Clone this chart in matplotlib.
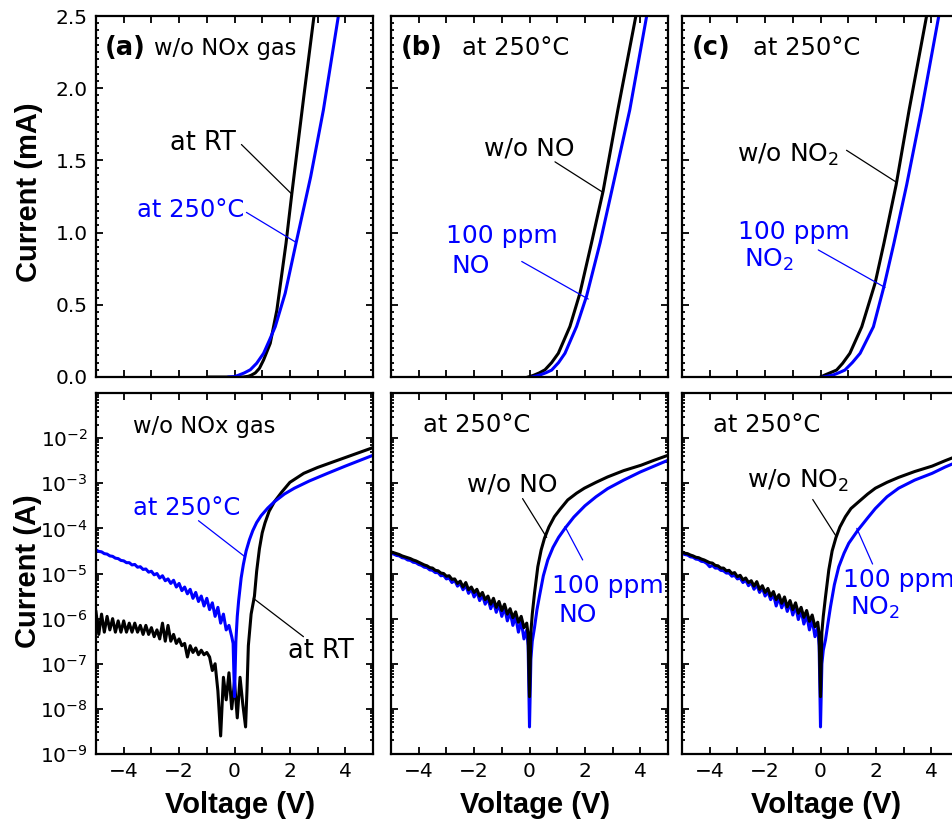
import numpy as np
import matplotlib
matplotlib.use("Agg")
import matplotlib.pyplot as plt
from matplotlib.ticker import MultipleLocator, LogLocator, NullFormatter, FormatStrFormatter

plt.rcParams['font.family'] = ['DejaVu Sans']
plt.rcParams['mathtext.fontset'] = 'dejavusans'

# ---------------- data: top row (linear, mA) ----------------
top_a_rt_v = [-0.9, -0.3, 0.0, 0.32, 0.5, 0.6, 0.75, 0.9, 1.05, 1.29, 1.53, 1.86, 2.07, 2.5, 2.87, 3.0]
top_a_rt_i = [0.0, 0.0, 0.0, 0.0, 0.005, 0.012, 0.028, 0.06, 0.118, 0.233, 0.464, 0.926, 1.27, 1.94, 2.5, 2.72]
top_a_hot_v = [-0.2, 0.0, 0.14, 0.35, 0.57, 0.8, 1.05, 1.25, 1.47, 1.83, 2.22, 2.75, 3.21, 3.75, 3.9]
top_a_hot_i = [0.0, 0.003, 0.012, 0.028, 0.05, 0.095, 0.164, 0.25, 0.348, 0.58, 0.926, 1.387, 1.85, 2.5, 2.7]

top_b_air_v = [-0.05, 0.15, 0.35, 0.56, 0.8, 1.04, 1.46, 1.82, 2.24, 2.66, 3.19, 3.84, 4.0]
top_b_air_i = [0.0, 0.012, 0.028, 0.05, 0.1, 0.164, 0.35, 0.58, 0.93, 1.29, 1.85, 2.5, 2.66]
top_b_gas_v = [0.1, 0.38, 0.6, 0.8, 1.05, 1.28, 1.7, 2.06, 2.55, 2.97, 3.62, 4.23, 4.4]
top_b_gas_i = [0.0, 0.014, 0.03, 0.048, 0.1, 0.164, 0.35, 0.56, 0.93, 1.29, 1.85, 2.5, 2.7]

top_c_air_v = [0.0, 0.16, 0.36, 0.58, 0.8, 1.06, 1.49, 1.97, 2.29, 2.73, 3.2, 3.83, 4.0]
top_c_air_i = [0.0, 0.014, 0.03, 0.048, 0.095, 0.164, 0.348, 0.649, 0.926, 1.33, 1.85, 2.5, 2.68]
top_c_gas_v = [0.1, 0.46, 0.67, 0.88, 1.15, 1.43, 1.91, 2.29, 2.65, 3.11, 3.65, 4.27, 4.45]
top_c_gas_i = [0.0, 0.014, 0.03, 0.048, 0.1, 0.164, 0.348, 0.626, 0.926, 1.33, 1.85, 2.5, 2.7]

# ---------------- data: bottom row (log10 of |I| in A) ----------------
neg_v = [round(-5.0 + 0.1 * k, 2) for k in range(50)]   # -5.0 ... -0.1

bot_a_rt_v = neg_v + [0.0, 0.1, 0.2, 0.3, 0.4, 0.45, 0.5, 0.6, 0.72, 0.8, 0.9, 1.0, 1.1, 1.25, 1.44,
                      1.7, 2.0, 2.5, 3.0, 3.5, 4.0, 4.5, 5.0]
bot_a_rt_log = [-5.85, -6.35, -5.9, -6.3, -5.95, -6.25, -6.0, -6.3, -6.05, -6.3,
                -6.05, -6.3, -6.1, -6.3, -6.1, -6.3, -6.15, -6.35, -6.15, -6.35,
                -6.2, -6.4, -6.25, -6.45, -6.1, -6.5, -6.15, -6.5, -6.35, -6.55,
                -6.45, -6.6, -6.55, -6.85, -6.6, -6.75, -6.65, -6.8, -6.7, -6.8,
                -6.75, -6.85, -7.15, -7.0, -7.6, -8.6, -7.3, -7.8, -7.2, -8.0,
                -7.4, -8.2, -7.3, -7.9, -8.4, -7.6, -6.6, -5.9, -5.5, -4.95, -4.45, -4.1, -3.88, -3.62, -3.41,
                -3.2, -2.98, -2.78, -2.65, -2.54, -2.43, -2.32, -2.21]

bot_a_hot_v = neg_v + [-0.05, 0.0, 0.05, 0.1, 0.15, 0.24, 0.32, 0.42, 0.54, 0.66, 0.8, 0.96, 1.2, 1.44,
                       1.8, 2.16, 2.7, 3.36, 4.0, 4.5, 5.0]
bot_a_hot_log = [-4.48, -4.51, -4.52, -4.56, -4.57, -4.61, -4.62, -4.66, -4.67, -4.71,
                 -4.72, -4.76, -4.76, -4.81, -4.80, -4.86, -4.85, -4.91, -4.90, -4.97,
                 -4.95, -5.03, -5.0, -5.1, -5.05, -5.16, -5.12, -5.22, -5.15, -5.3,
                 -5.22, -5.38, -5.3, -5.45, -5.35, -5.55, -5.42, -5.62, -5.5, -5.72,
                 -5.55, -5.8, -5.65, -5.95, -5.75, -6.1, -5.9, -6.25, -6.15, -6.4,
                 -6.55, -7.73, -6.5, -5.95, -5.6, -5.1, -4.8, -4.5, -4.25, -4.05, -3.87, -3.72, -3.55, -3.41,
                 -3.24, -3.11, -2.95, -2.78, -2.62, -2.5, -2.38]

bot_b_air_v = neg_v + [-0.05, 0.0, 0.05, 0.1, 0.18, 0.3, 0.42, 0.54, 0.7, 0.9, 1.1, 1.38, 1.7, 1.98,
                       2.4, 2.82, 3.4, 4.03, 4.5, 5.0]
bot_b_air_log = [-4.52, -4.54, -4.56, -4.58, -4.61, -4.63, -4.65, -4.67, -4.70, -4.72,
                 -4.75, -4.78, -4.81, -4.83, -4.87, -4.88, -4.93, -4.94, -4.99, -5.0,
                 -5.06, -5.05, -5.13, -5.12, -5.22, -5.17, -5.3, -5.2, -5.36, -5.3,
                 -5.42, -5.35, -5.5, -5.42, -5.58, -5.5, -5.68, -5.55, -5.75, -5.62,
                 -5.82, -5.68, -5.9, -5.78, -5.98, -5.85, -6.08, -5.95, -6.2, -6.1,
                 -6.35, -7.73, -6.3, -5.9, -5.44, -4.85, -4.48, -4.22, -3.97, -3.74, -3.58, -3.37, -3.22, -3.11,
                 -2.98, -2.86, -2.72, -2.6, -2.49, -2.38]

bot_b_gas_v = neg_v + [-0.05, 0.0, 0.05, 0.1, 0.18, 0.27, 0.36, 0.5, 0.66, 0.85, 1.05, 1.28, 1.6, 2.0,
                       2.4, 2.82, 3.4, 4.0, 4.5, 5.0]
bot_b_gas_log = [-4.55, -4.57, -4.6, -4.61, -4.65, -4.66, -4.7, -4.71, -4.75, -4.76,
                 -4.8, -4.82, -4.86, -4.87, -4.92, -4.93, -4.98, -4.98, -5.05, -5.04,
                 -5.12, -5.1, -5.2, -5.15, -5.28, -5.22, -5.36, -5.26, -5.44, -5.34,
                 -5.52, -5.4, -5.6, -5.48, -5.68, -5.55, -5.78, -5.62, -5.86, -5.68,
                 -5.95, -5.75, -6.05, -5.85, -6.15, -5.95, -6.3, -6.05, -6.45, -6.25,
                 -6.6, -8.40, -6.9, -6.5, -6.2, -5.8, -5.5, -5.05, -4.7, -4.42, -4.2, -4.0, -3.75, -3.5,
                 -3.3, -3.12, -2.93, -2.75, -2.62, -2.49]

bot_c_air_v = neg_v + [-0.05, 0.0, 0.05, 0.1, 0.18, 0.3, 0.42, 0.56, 0.7, 0.9, 1.1, 1.38, 1.7, 1.98,
                       2.4, 2.82, 3.4, 4.03, 4.5, 5.0]
bot_c_air_log = [-4.52, -4.55, -4.56, -4.59, -4.61, -4.64, -4.65, -4.68, -4.70, -4.73,
                 -4.76, -4.77, -4.82, -4.83, -4.88, -4.88, -4.94, -4.93, -5.0, -4.98,
                 -5.07, -5.04, -5.14, -5.1, -5.2, -5.16, -5.28, -5.18, -5.35, -5.27,
                 -5.42, -5.33, -5.5, -5.4, -5.58, -5.47, -5.66, -5.52, -5.74, -5.6,
                 -5.8, -5.65, -5.88, -5.75, -5.97, -5.82, -6.06, -5.92, -6.18, -6.08,
                 -6.35, -7.73, -6.3, -5.95, -5.52, -4.92, -4.5, -4.2, -3.97, -3.74, -3.56, -3.41, -3.24, -3.11,
                 -2.98, -2.87, -2.74, -2.62, -2.5, -2.38]

bot_c_gas_v = neg_v + [-0.05, 0.0, 0.05, 0.1, 0.18, 0.27, 0.36, 0.5, 0.66, 0.85, 1.02, 1.35, 1.7, 1.98,
                       2.4, 2.82, 3.4, 4.03, 4.5, 5.0]
bot_c_gas_log = [-4.55, -4.58, -4.59, -4.63, -4.64, -4.68, -4.69, -4.73, -4.74, -4.78,
                 -4.85, -4.82, -4.88, -4.88, -4.93, -4.94, -4.99, -4.99, -5.06, -5.04,
                 -5.12, -5.1, -5.2, -5.15, -5.27, -5.2, -5.35, -5.25, -5.42, -5.32,
                 -5.5, -5.4, -5.58, -5.46, -5.72, -5.53, -5.76, -5.6, -5.84, -5.66,
                 -5.92, -5.72, -6.02, -5.82, -6.12, -5.92, -6.25, -6.02, -6.4, -6.2,
                 -6.6, -8.40, -7.0, -6.7, -6.47, -6.1, -5.74, -5.25, -4.85, -4.55, -4.33, -4.04, -3.77, -3.56,
                 -3.3, -3.11, -2.93, -2.78, -2.64, -2.51]

BLACK = '#000000'
BLUE = '#0000ff'

fig = plt.figure(figsize=(9.52, 8.23), dpi=100)
FW, FH = 952.0, 823.0
W = 277 / FW
H = 361 / FH
lefts = [96 / FW, 391 / FW, 682 / FW]
top_bottom = 1 - 377 / FH
bot_bottom = 1 - 754 / FH

axes_top = [fig.add_axes([l, top_bottom, W, H]) for l in lefts]
axes_bot = [fig.add_axes([l, bot_bottom, W, H]) for l in lefts]


def style(ax):
    for s in ax.spines.values():
        s.set_linewidth(1.6)
    ax.tick_params(which='both', direction='in', top=True, right=True, width=1.3,
                   labelsize=14.5, pad=6, colors='black')
    ax.tick_params(which='major', length=5)
    ax.tick_params(which='minor', length=2.5)
    ax.tick_params(axis='x', which='minor', length=5)
    ax.set_xlim(-5, 5)
    ax.xaxis.set_major_locator(MultipleLocator(2))
    ax.xaxis.set_minor_locator(MultipleLocator(1))


LW = 2.2
TXT = 18


def leader(ax, start, end, color):
    ax.annotate('', xy=end, xytext=start,
                arrowprops=dict(arrowstyle='-', color=color, lw=0.9, shrinkA=0, shrinkB=0))


# ---- top row ----
for k, ax in enumerate(axes_top):
    style(ax)
    ax.set_ylim(0, 2.5)
    ax.yaxis.set_major_locator(MultipleLocator(0.5))
    ax.yaxis.set_major_formatter(FormatStrFormatter('%.1f'))
    ax.yaxis.set_minor_locator(MultipleLocator(0.05))
    ax.tick_params(axis='x', labelbottom=False)
    if k > 0:
        ax.tick_params(axis='y', labelleft=False)

ax = axes_top[0]
ax.plot(top_a_rt_v, np.array(top_a_rt_i), color=BLACK, lw=LW)
ax.plot(top_a_hot_v, np.array(top_a_hot_i), color=BLUE, lw=LW)
ax.set_ylabel('Current (mA)', fontsize=21, fontweight='bold', family='Liberation Sans')
ax.yaxis.set_label_coords(-0.242, 0.511)
ax.yaxis.label.set_va('center')
ax.text(-4.68, 2.23, '(a)', fontsize=18.5, fontweight='bold', ha='left', va='baseline')
ax.text(-2.92, 2.23, 'w/o NOx gas', fontsize=16.3, ha='left', va='baseline')
ax.text(-2.32, 1.572, 'at RT', fontsize=18.5, ha='left', va='baseline', color=BLACK)
leader(ax, (0.25, 1.61), (2.05, 1.27), BLACK)
ax.text(-3.53, 1.11, 'at 250°C', fontsize=17.5, ha='left', va='baseline', color=BLUE)
leader(ax, (0.43, 1.14), (2.2, 0.935), BLUE)

ax = axes_top[1]
ax.plot(top_b_air_v, np.array(top_b_air_i), color=BLACK, lw=LW)
ax.plot(top_b_gas_v, np.array(top_b_gas_i), color=BLUE, lw=LW)
ax.text(-4.65, 2.23, '(b)', fontsize=18.5, fontweight='bold', ha='left', va='baseline')
ax.text(-2.45, 2.23, 'at 250°C', fontsize=17.5, ha='left', va='baseline')
ax.text(-1.64, 1.537, 'w/o NO', fontsize=TXT, ha='left', va='baseline', color=BLACK)
leader(ax, (0.92, 1.49), (2.64, 1.28), BLACK)
ax.text(-3.01, 0.926, '100 ppm', fontsize=TXT, ha='left', va='baseline', color=BLUE)
ax.text(-2.81, 0.718, 'NO', fontsize=TXT, ha='left', va='baseline', color=BLUE)
leader(ax, (-0.28, 0.80), (2.12, 0.54), BLUE)

ax = axes_top[2]
ax.plot(top_c_air_v, np.array(top_c_air_i), color=BLACK, lw=LW)
ax.plot(top_c_gas_v, np.array(top_c_gas_i), color=BLUE, lw=LW)
ax.text(-4.65, 2.23, '(c)', fontsize=18.5, fontweight='bold', ha='left', va='baseline')
ax.text(-2.45, 2.23, 'at 250°C', fontsize=17.5, ha='left', va='baseline')
ax.text(-3.03, 1.49, 'w/o NO$_2$', fontsize=TXT, ha='left', va='baseline', color=BLACK)
leader(ax, (0.94, 1.57), (2.73, 1.35), BLACK)
ax.text(-2.97, 0.953, '100 ppm', fontsize=TXT, ha='left', va='baseline', color=BLUE)
ax.text(-2.76, 0.764, 'NO$_2$', fontsize=TXT, ha='left', va='baseline', color=BLUE)
leader(ax, (-0.08, 0.88), (2.33, 0.62), BLUE)

# ---- bottom row ----
for k, ax in enumerate(axes_bot):
    style(ax)
    ax.set_yscale('log')
    ax.set_ylim(1e-9, 1e-1)
    ax.set_yticks(10.0 ** np.arange(-9, -1))
    ax.yaxis.set_minor_locator(LogLocator(base=10, subs=np.arange(2, 10), numticks=30))
    ax.yaxis.set_minor_formatter(NullFormatter())
    if k > 0:
        ax.tick_params(axis='y', labelleft=False)
    ax.set_xlabel('Voltage (V)', fontsize=21, fontweight='bold', family='Liberation Sans')
    ax.xaxis.set_label_coords(0.52, -0.141)
    ax.xaxis.label.set_va('center')


def p(logs):
    return 10.0 ** np.array(logs)


ax = axes_bot[0]
ax.plot(bot_a_rt_v, p(bot_a_rt_log), color=BLACK, lw=LW)
ax.plot(bot_a_hot_v, p(bot_a_hot_log), color=BLUE, lw=LW)
ax.set_ylabel('Current (A)', fontsize=21, fontweight='bold', family='Liberation Sans')
ax.yaxis.set_label_coords(-0.245, 0.507)
ax.yaxis.label.set_va('center')
ax.text(-3.66, 10 ** -1.88, 'w/o NOx gas', fontsize=16.3, ha='left', va='baseline')
ax.text(-3.66, 10 ** -3.71, 'at 250°C', fontsize=17.5, ha='left', va='baseline', color=BLUE)
leader(ax, (-1.30, 10 ** -3.83), (0.38, 10 ** -4.63), BLUE)
ax.text(1.92, 10 ** -6.88, 'at RT', fontsize=18.5, ha='left', va='baseline', color=BLACK)
leader(ax, (2.49, 10 ** -6.40), (0.68, 10 ** -5.55), BLACK)

ax = axes_bot[1]
ax.plot(bot_b_gas_v, p(bot_b_gas_log), color=BLUE, lw=LW)
ax.plot(bot_b_air_v, p(bot_b_air_log), color=BLACK, lw=LW)
ax.text(-3.86, 10 ** -1.86, 'at 250°C', fontsize=17.5, ha='left', va='baseline')
ax.text(-2.25, 10 ** -3.19, 'w/o NO', fontsize=TXT, ha='left', va='baseline', color=BLACK)
leader(ax, (-0.25, 10 ** -3.34), (0.62, 10 ** -4.2), BLACK)
ax.text(0.80, 10 ** -5.44, '100 ppm', fontsize=TXT, ha='left', va='baseline', color=BLUE)
ax.text(1.04, 10 ** -6.07, 'NO', fontsize=TXT, ha='left', va='baseline', color=BLUE)
leader(ax, (1.92, 10 ** -4.70), (1.28, 10 ** -3.96), BLUE)

ax = axes_bot[2]
ax.plot(bot_c_gas_v, p(bot_c_gas_log), color=BLUE, lw=LW)
ax.plot(bot_c_air_v, p(bot_c_air_log), color=BLACK, lw=LW)
ax.text(-3.89, 10 ** -1.86, 'at 250°C', fontsize=17.5, ha='left', va='baseline')
ax.text(-2.66, 10 ** -3.11, 'w/o NO$_2$', fontsize=TXT, ha='left', va='baseline', color=BLACK)
leader(ax, (-0.28, 10 ** -3.36), (0.58, 10 ** -4.19), BLACK)
ax.text(0.82, 10 ** -5.29, '100 ppm', fontsize=TXT, ha='left', va='baseline', color=BLUE)
ax.text(1.06, 10 ** -5.92, 'NO$_2$', fontsize=TXT, ha='left', va='baseline', color=BLUE)
leader(ax, (1.88, 10 ** -4.79), (1.31, 10 ** -4.0), BLUE)

fig.savefig('out.png', dpi=100)
